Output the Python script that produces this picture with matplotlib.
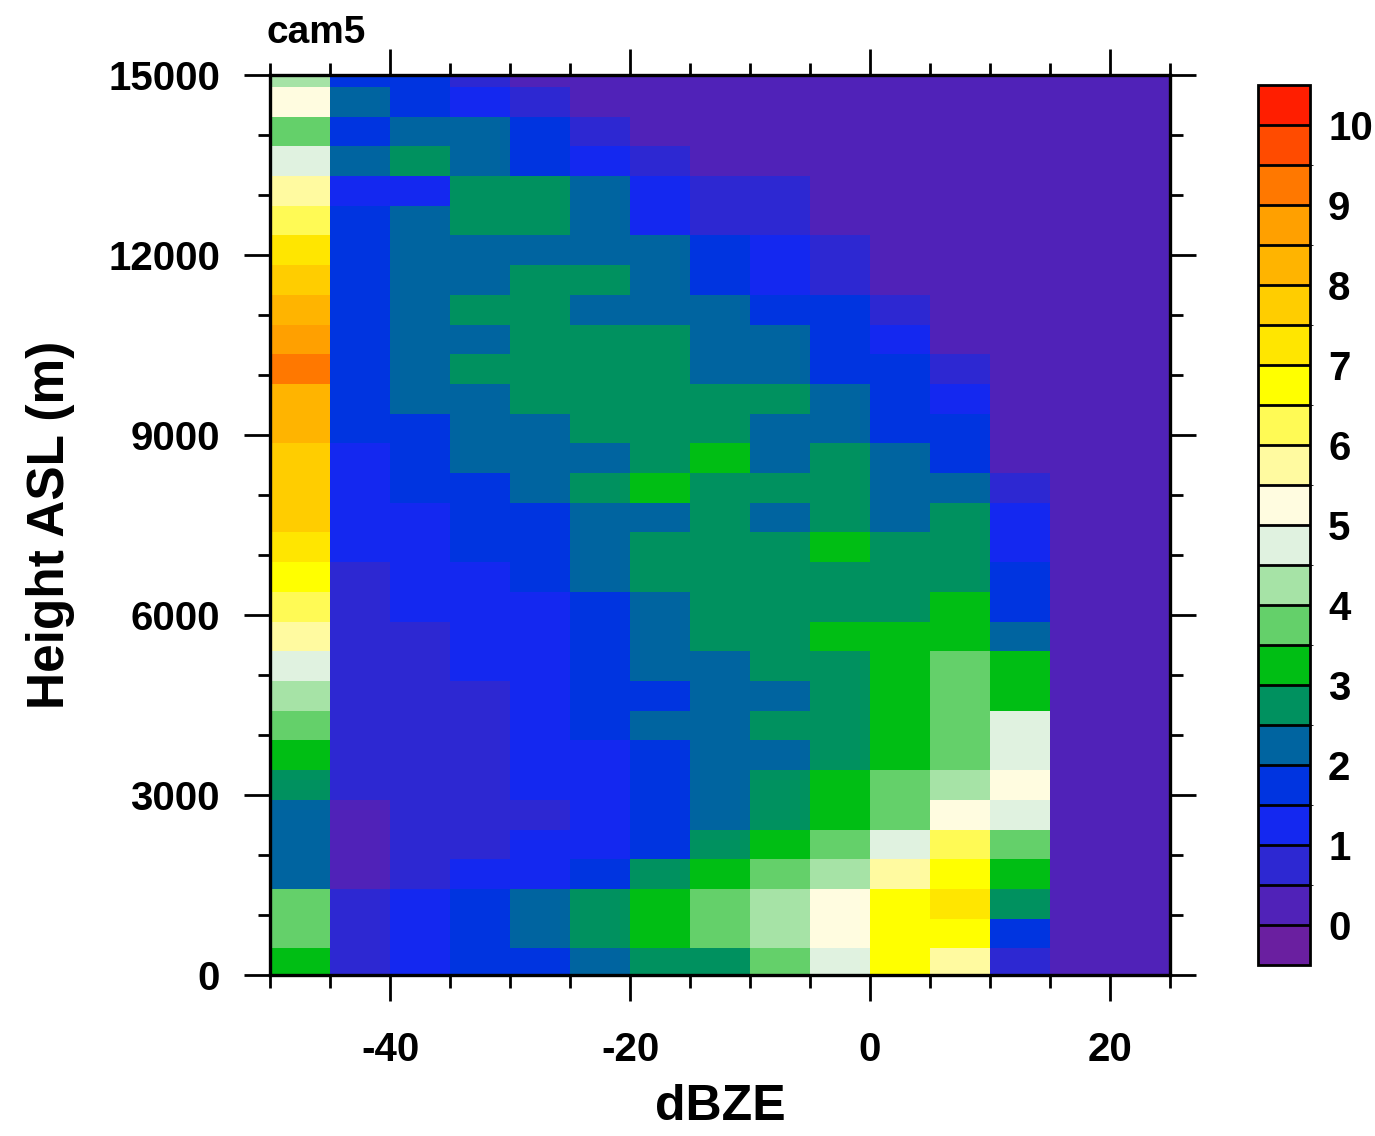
import matplotlib.pyplot as plt
import numpy as np
from matplotlib.colors import ListedColormap, BoundaryNorm

plt.rcParams['font.family'] = ['Liberation Sans', 'DejaVu Sans']
plt.rcParams['font.weight'] = 'bold'
plt.rcParams['axes.labelweight'] = 'bold'
plt.rcParams['axes.unicode_minus'] = False

# reflectivity bin edges (dBZ) and height bin edges (m)
dbz_edges = np.arange(-50, 30, 5)
hgt_edges = [0, 445, 940, 1435, 1930, 2425, 2920, 3415, 3910, 4405, 4900,
             5395, 5890, 6385, 6880, 7375, 7870, 8365, 8860, 9355, 9850,
             10345, 10840, 11335, 11830, 12325, 12820, 13315, 13810, 14305,
             14800, 15000]

# CFAD frequency (%), rows listed from the top height bin down to the surface
cfad_top_down = [
    [4.2, 1.8, 1.6, 0.6, 0.0, 0.0, 0.0, 0.0, 0.0, 0.0, 0.0, 0.0, 0.0, 0.0, 0.0],
    [5.3, 2.1, 1.7, 1.2, 0.8, 0.1, 0.0, 0.0, 0.0, 0.0, 0.0, 0.0, 0.0, 0.0, 0.0],
    [3.8, 1.9, 2.3, 2.1, 1.6, 0.6, 0.2, 0.0, 0.0, 0.0, 0.0, 0.0, 0.0, 0.0, 0.0],
    [4.6, 2.2, 2.6, 2.3, 1.8, 1.3, 0.7, 0.2, 0.0, 0.0, 0.0, 0.0, 0.0, 0.0, 0.0],
    [5.8, 1.3, 1.4, 2.7, 2.6, 2.3, 1.2, 0.8, 0.6, 0.1, 0.0, 0.0, 0.0, 0.0, 0.0],
    [6.3, 1.7, 2.4, 2.7, 2.6, 2.2, 1.3, 0.9, 0.6, 0.2, 0.0, 0.0, 0.0, 0.0, 0.0],
    [7.2, 1.8, 2.2, 2.4, 2.4, 2.3, 2.1, 1.6, 1.1, 0.6, 0.1, 0.0, 0.0, 0.0, 0.0],
    [7.7, 1.8, 2.3, 2.4, 2.6, 2.6, 2.2, 1.7, 1.2, 0.7, 0.2, 0.0, 0.0, 0.0, 0.0],
    [8.2, 1.9, 2.2, 2.6, 2.8, 2.4, 2.2, 2.1, 1.8, 1.6, 0.6, 0.1, 0.0, 0.0, 0.0],
    [8.7, 1.8, 2.3, 2.4, 2.7, 2.8, 2.6, 2.4, 2.1, 1.7, 1.1, 0.2, 0.0, 0.0, 0.0],
    [9.3, 1.9, 2.3, 2.6, 2.9, 2.8, 2.7, 2.3, 2.2, 1.9, 1.6, 0.7, 0.1, 0.0, 0.0],
    [8.3, 1.8, 2.2, 2.4, 2.7, 2.9, 2.8, 2.6, 2.5, 2.1, 1.7, 1.1, 0.2, 0.0, 0.0],
    [8.1, 1.8, 1.9, 2.3, 2.4, 2.7, 2.9, 2.8, 2.4, 2.2, 1.8, 1.6, 0.3, 0.0, 0.0],
    [7.8, 1.4, 1.7, 2.2, 2.4, 2.4, 2.9, 3.1, 2.4, 2.6, 2.2, 1.8, 0.4, 0.0, 0.0],
    [7.6, 1.3, 1.6, 1.9, 2.3, 2.7, 3.2, 2.9, 2.8, 2.6, 2.4, 2.1, 0.8, 0.0, 0.0],
    [7.7, 1.3, 1.4, 1.6, 1.9, 2.2, 2.4, 2.7, 2.4, 2.6, 2.3, 2.6, 1.2, 0.0, 0.0],
    [7.3, 1.2, 1.4, 1.7, 1.8, 2.3, 2.6, 2.8, 2.9, 3.2, 2.9, 2.7, 1.3, 0.0, 0.0],
    [6.9, 0.9, 1.3, 1.4, 1.6, 2.1, 2.6, 2.8, 2.9, 2.9, 2.8, 2.9, 1.7, 0.0, 0.0],
    [6.4, 0.8, 1.1, 1.3, 1.4, 1.8, 2.3, 2.7, 2.9, 2.9, 2.9, 3.3, 1.8, 0.0, 0.0],
    [5.8, 0.8, 0.9, 1.2, 1.4, 1.7, 2.2, 2.7, 2.8, 3.2, 3.3, 3.4, 2.2, 0.0, 0.0],
    [4.8, 0.7, 0.9, 1.1, 1.3, 1.6, 2.1, 2.4, 2.6, 2.9, 3.4, 3.7, 3.1, 0.0, 0.0],
    [4.2, 0.7, 0.8, 0.9, 1.2, 1.6, 1.9, 2.3, 2.4, 2.7, 3.4, 3.8, 3.3, 0.0, 0.0],
    [3.7, 0.7, 0.8, 0.9, 1.3, 1.7, 2.1, 2.3, 2.6, 2.8, 3.3, 3.8, 4.7, 0.0, 0.0],
    [3.3, 0.6, 0.8, 0.9, 1.2, 1.4, 1.8, 2.2, 2.4, 2.8, 3.3, 3.9, 4.8, 0.0, 0.0],
    [2.8, 0.6, 0.7, 0.9, 1.2, 1.3, 1.8, 2.3, 2.8, 3.2, 3.7, 4.3, 5.2, 0.0, 0.0],
    [2.3, 0.4, 0.6, 0.8, 0.9, 1.2, 1.7, 2.4, 2.7, 3.3, 3.8, 5.1, 4.7, 0.0, 0.0],
    [2.2, 0.4, 0.6, 0.7, 1.1, 1.3, 1.6, 2.6, 3.2, 3.7, 4.8, 6.2, 3.8, 0.0, 0.0],
    [2.3, 0.4, 0.8, 1.1, 1.3, 1.8, 2.6, 3.3, 3.8, 4.3, 5.8, 6.8, 3.2, 0.0, 0.0],
    [3.7, 0.8, 1.2, 1.7, 2.2, 2.7, 3.2, 3.8, 4.3, 5.3, 6.9, 7.2, 2.8, 0.0, 0.0],
    [3.8, 0.8, 1.3, 1.6, 2.1, 2.6, 3.3, 3.7, 4.2, 5.2, 6.8, 6.9, 1.6, 0.0, 0.0],
    [3.3, 0.7, 1.2, 1.6, 1.9, 2.2, 2.6, 2.8, 3.6, 4.7, 6.7, 5.7, 0.8, 0.0, 0.0],
]
cfad = np.flipud(np.array(cfad_top_down))

# contour levels and fill colours (below 0 ... above 10)
levels = np.arange(0, 10.5, 0.5)
colors = ['#6a1fa0', '#5022b8', '#2d28d2', '#1428f0', '#0034e0', '#0064a0',
          '#00915f', '#00be14', '#64d06a', '#a6e3a6', '#e0f2e0', '#fffce0',
          '#fffaa0', '#fffa55', '#ffff00', '#ffe600', '#ffcd00', '#ffb400',
          '#ffa000', '#ff7800', '#ff4b00', '#ff1e00']
cmap = ListedColormap(colors)
norm = BoundaryNorm(levels, ncolors=len(colors), extend='both')

W, H = 1375, 1136
fig = plt.figure(figsize=(W / 100, H / 100), dpi=100)
ax = fig.add_axes([270 / W, (H - 975) / H, 900 / W, 900 / H])

mesh = ax.pcolormesh(dbz_edges, hgt_edges, cfad, cmap=cmap, norm=norm)

ax.set_xlim(-50, 25)
ax.set_ylim(0, 15000)
ax.set_xticks([-40, -20, 0, 20])
ax.set_xticks(np.arange(-50, 26, 5), minor=True)
ax.set_yticks(np.arange(0, 15001, 3000))
ax.set_yticks(np.arange(0, 15001, 1000), minor=True)
ax.tick_params(which='both', direction='out', top=True, right=True, width=2)
ax.tick_params(which='major', length=19, labelsize=29)
ax.tick_params(which='minor', length=9)
ax.tick_params(axis='x', which='major', pad=21)
ax.tick_params(axis='y', which='major', pad=17)
for sp in ax.spines.values():
    sp.set_linewidth(2.4)

ax.set_xlabel('dBZE', fontsize=36, labelpad=11)
ax.set_ylabel('Height ASL (m)', fontsize=37, labelpad=24)
ax.text(-0.004, 1.036, 'cam5', transform=ax.transAxes, fontsize=28,
        ha='left', va='baseline')

cax = fig.add_axes([1258 / W, (H - 965) / H, 52 / W, 880 / H])
cb = fig.colorbar(mesh, cax=cax, extend='both', extendrect=True,
                  extendfrac=0.05, drawedges=True, ticks=np.arange(0, 11, 1))
cb.outline.set_linewidth(2)
cb.dividers.set_linewidth(2)
cb.ax.tick_params(length=0, labelsize=29, pad=13)

fig.savefig('out.png', dpi=100)
